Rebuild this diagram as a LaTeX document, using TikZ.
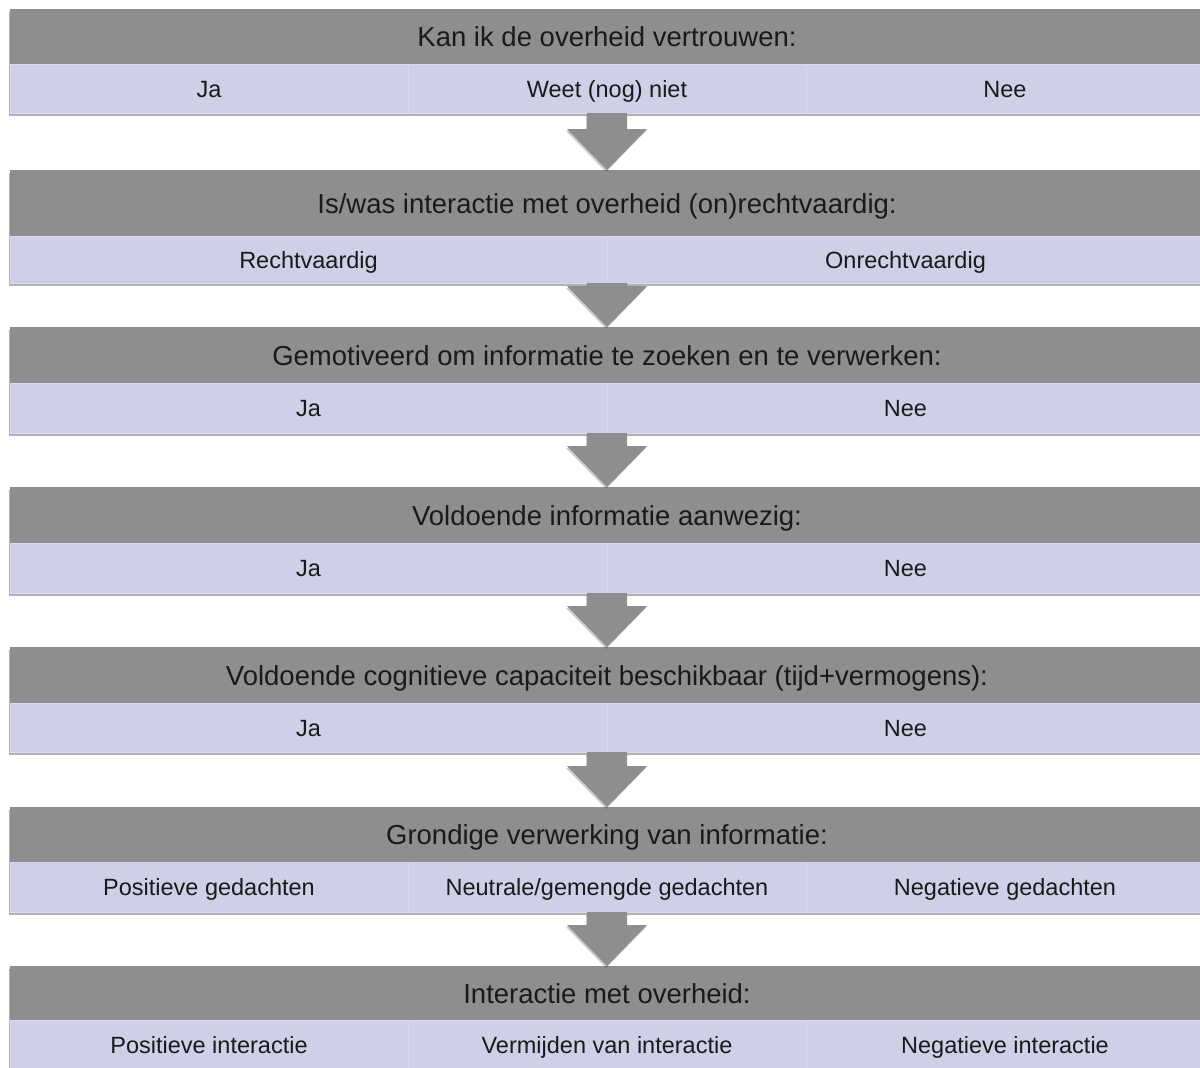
\documentclass[tikz,border=0pt]{standalone}
\usepackage{fontspec}
\setmainfont{Liberation Sans}
\usetikzlibrary{calc,shadows}
\definecolor{hdr}{HTML}{8E8E8E}
\definecolor{cellc}{HTML}{CFCFE8}
\definecolor{cellline}{HTML}{D9D9EF}
\definecolor{txt}{HTML}{1A1A1A}
\tikzset{
  rowbg/.style={fill=cellc, draw=none, inner sep=0pt, outer sep=0pt, anchor=north west,
    minimum width=1194pt, drop shadow={shadow xshift=-1.5pt, shadow yshift=-2.5pt, opacity=0.3, fill=black}},
  hdrbox/.style={fill=hdr, draw=none, inner sep=0pt, outer sep=0pt, anchor=north west,
    minimum width=1194pt, text=txt, font=\fontsize{27.5}{30}\selectfont,
    text height=20pt, text depth=0pt},
  cellthree/.style={fill=cellc, draw=cellline, line width=0.8pt, inner sep=0pt, outer sep=0pt, anchor=north west,
    minimum width=398pt, text=txt, font=\fontsize{23.5}{26}\selectfont,
    text height=17pt, text depth=0pt},
  celltwo/.style={cellthree, minimum width=597pt},
  flowarrow/.style={fill=hdr, draw=none, drop shadow={shadow xshift=-1pt, shadow yshift=-2pt, opacity=0.2, fill=black}}
}
\newcommand{\flowarr}[2]{%
  \fill[flowarrow] ($(#1.south)+(-20,0)$) -- ($(#2.north)+(-20,-41)$) -- ($(#2.north)+(-40,-41)$)
    -- (#2.north) -- ($(#2.north)+(40,-41)$) -- ($(#2.north)+(20,-41)$) -- ($(#1.south)+(20,0)$) -- cycle;}
\begin{document}
\begin{tikzpicture}[x=1pt,y=-1pt]
\useasboundingbox (0,0) rectangle (1200,1068);
\clip (0,0) rectangle (1200,1068);

% Row 1
\node[rowbg, minimum height=104pt] (r1) at (10,9) {};
\node[hdrbox, minimum height=55pt] (h1) at (10,9) {Kan ik de overheid vertrouwen:};
\node[cellthree, minimum height=49pt] (c11) at (10,64) {Ja};
\node[cellthree, minimum height=49pt] (c12) at (408,64) {Weet (nog) niet};
\node[cellthree, minimum height=49pt] (c13) at (806,64) {Nee};

% Row 2
\node[rowbg, minimum height=113pt] (r2) at (10,170) {};
\node[hdrbox, minimum height=66pt] (h2) at (10,170) {Is/was interactie met overheid (on)rechtvaardig:};
\node[celltwo, minimum height=47pt] (c21) at (10,236) {Rechtvaardig};
\node[celltwo, minimum height=47pt] (c22) at (607,236) {Onrechtvaardig};

% Row 3
\node[rowbg, minimum height=106pt] (r3) at (10,327) {};
\node[hdrbox, minimum height=56pt] (h3) at (10,327) {Gemotiveerd om informatie te zoeken en te verwerken:};
\node[celltwo, minimum height=50pt] (c31) at (10,383) {Ja};
\node[celltwo, minimum height=50pt] (c32) at (607,383) {Nee};

% Row 4
\node[rowbg, minimum height=106pt] (r4) at (10,487) {};
\node[hdrbox, minimum height=56pt] (h4) at (10,487) {Voldoende informatie aanwezig:};
\node[celltwo, minimum height=50pt] (c41) at (10,543) {Ja};
\node[celltwo, minimum height=50pt] (c42) at (607,543) {Nee};

% Row 5
\node[rowbg, minimum height=105pt] (r5) at (10,647) {};
\node[hdrbox, minimum height=56pt] (h5) at (10,647) {Voldoende cognitieve capaciteit beschikbaar (tijd+vermogens):};
\node[celltwo, minimum height=49pt] (c51) at (10,703) {Ja};
\node[celltwo, minimum height=49pt] (c52) at (607,703) {Nee};

% Row 6
\node[rowbg, minimum height=105pt] (r6) at (10,807) {};
\node[hdrbox, minimum height=55pt] (h6) at (10,807) {Grondige verwerking van informatie:};
\node[cellthree, minimum height=50pt] (c61) at (10,862) {Positieve gedachten};
\node[cellthree, minimum height=50pt] (c62) at (408,862) {Neutrale/gemengde gedachten};
\node[cellthree, minimum height=50pt] (c63) at (806,862) {Negatieve gedachten};

% Row 7
\node[rowbg, minimum height=109pt] (r7) at (10,966) {};
\node[hdrbox, minimum height=54pt] (h7) at (10,966) {Interactie met overheid:};
\node[cellthree, minimum height=50pt] (c71) at (10,1020) {Positieve interactie};
\node[cellthree, minimum height=50pt] (c72) at (408,1020) {Vermijden van interactie};
\node[cellthree, minimum height=50pt] (c73) at (806,1020) {Negatieve interactie};

% Arrows
\flowarr{r1}{r2}
\flowarr{r2}{r3}
\flowarr{r3}{r4}
\flowarr{r4}{r5}
\flowarr{r5}{r6}
\flowarr{r6}{r7}
\end{tikzpicture}
\end{document}
